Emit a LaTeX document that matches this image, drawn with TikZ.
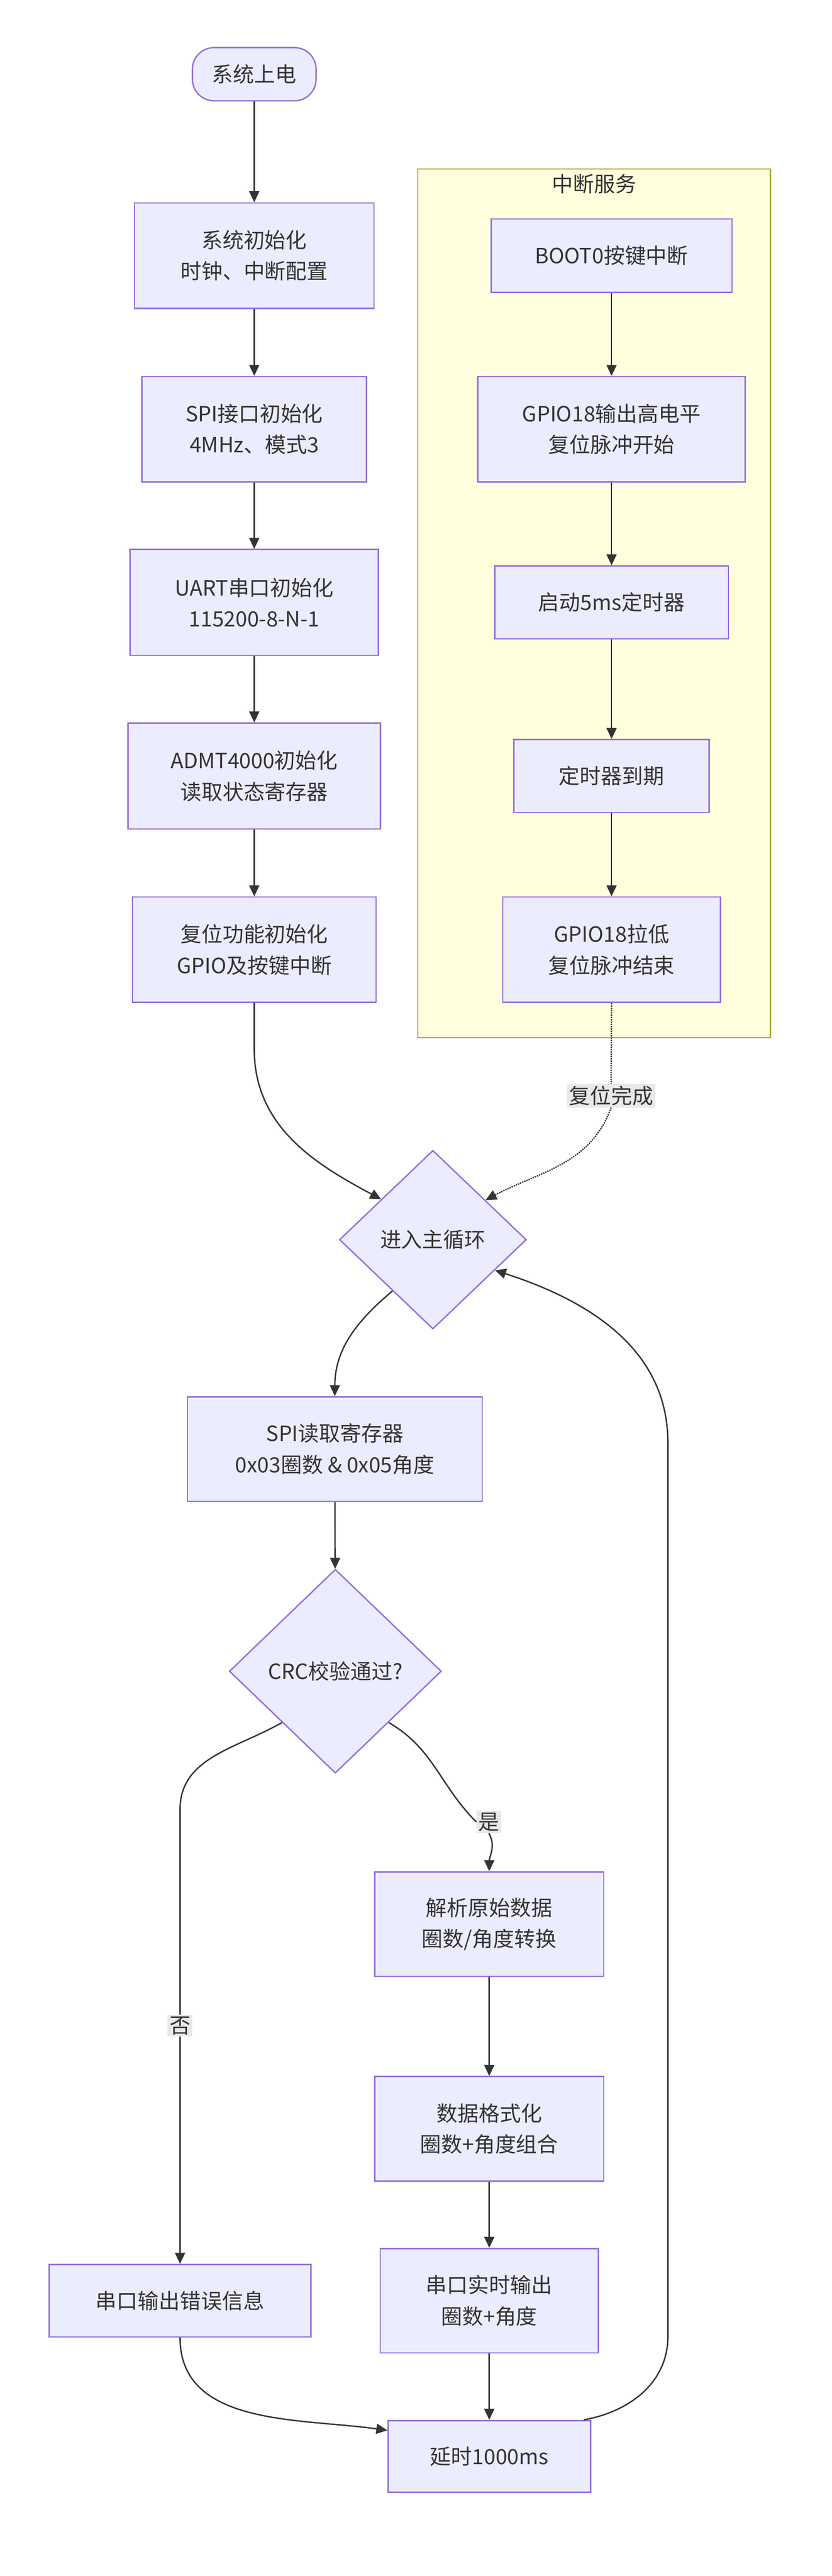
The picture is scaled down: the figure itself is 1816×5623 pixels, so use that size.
\documentclass[tikz,border=0pt]{standalone}
\usepackage{fontspec}
\setmainfont{Noto Sans CJK SC}
\usetikzlibrary{shapes.geometric,arrows.meta,calc}
\definecolor{nfill}{HTML}{ECECFF}
\definecolor{nstroke}{HTML}{9370DB}
\definecolor{sfill}{HTML}{FFFFDE}
\definecolor{sstroke}{HTML}{AAAA33}
\definecolor{lbg}{HTML}{E8E8E8}
\definecolor{edge}{HTML}{333333}
\begin{document}
\begin{tikzpicture}[x=1pt,y=-1pt,
  every node/.style={font=\fontsize{46}{68}\selectfont, text=edge},
  box/.style={rectangle, draw=nstroke, fill=nfill, line width=3pt, align=center, inner sep=0pt},
  dia/.style={diamond, draw=nstroke, fill=nfill, line width=3pt, align=center, inner sep=0pt},
  lbl/.style={fill=lbg, inner sep=4pt},
  arr/.style={draw=edge, line width=3pt, -{Triangle[length=24pt,width=22pt]}}]
\useasboundingbox (0,0) rectangle (1816,5623);
\fill[white] (0,0) rectangle (1816,5623);
% subgraph
\draw[fill=sfill, draw=sstroke, line width=3pt] (912,369) rectangle (1682,2265);
\node (sgt) at (1297,401) {中断服务};
% main column
\node[box, rounded corners=47pt, minimum width=270pt, minimum height=116pt] (s) at (555,162) {系统上电};
\node[box, minimum width=523pt, minimum height=230pt] (b1) at (555,558) {系统初始化\\时钟、中断配置};
\node[box, minimum width=491pt, minimum height=230pt] (b2) at (555,937) {SPI接口初始化\\4MHz、模式3};
\node[box, minimum width=542pt, minimum height=231pt] (b3) at (555,1315) {UART串口初始化\\115200-8-N-1};
\node[box, minimum width=551pt, minimum height=231pt] (b4) at (555,1694) {ADMT4000初始化\\读取状态寄存器};
\node[box, minimum width=532pt, minimum height=230pt] (b5) at (555,2073) {复位功能初始化\\GPIO及按键中断};
% interrupt column
\node[box, minimum width=526pt, minimum height=160pt] (i1) at (1335,558) {BOOT0按键中断};
\node[box, minimum width=584pt, minimum height=230pt] (i2) at (1335,937) {GPIO18输出高电平\\复位脉冲开始};
\node[box, minimum width=510pt, minimum height=159pt] (i3) at (1335,1315) {启动5ms定时器};
\node[box, minimum width=426pt, minimum height=159pt] (i4) at (1335,1694) {定时器到期};
\node[box, minimum width=475pt, minimum height=230pt] (i5) at (1335,2073) {GPIO18拉低\\复位脉冲结束};
% loop
\node[dia, minimum width=408pt, minimum height=390pt] (d1) at (945,2706) {进入主循环};
\node[box, minimum width=643pt, minimum height=228pt] (r) at (731,3163) {SPI读取寄存器\\0x03圈数 \& 0x05角度};
\node[dia, minimum width=463pt, minimum height=445pt] (d2) at (732,3648) {CRC校验通过?};
\node[box, minimum width=500pt, minimum height=228pt] (p) at (1068,4200) {解析原始数据\\圈数/角度转换};
\node[box, minimum width=500pt, minimum height=228pt] (f) at (1068,4647) {数据格式化\\圈数+角度组合};
\node[box, minimum width=476pt, minimum height=228pt] (o) at (1068,5022) {串口实时输出\\圈数+角度};
\node[box, minimum width=571pt, minimum height=158pt] (e) at (393,5022) {串口输出错误信息};
\node[box, minimum width=442pt, minimum height=157pt] (dl) at (1068,5362) {延时1000ms};
% edges
\draw[arr] (s) -- (b1);
\draw[arr] (b1) -- (b2);
\draw[arr] (b2) -- (b3);
\draw[arr] (b3) -- (b4);
\draw[arr] (b4) -- (b5);
\draw[arr] (i1) -- (i2);
\draw[arr] (i2) -- (i3);
\draw[arr] (i3) -- (i4);
\draw[arr] (i4) -- (i5);
\coordinate (d1a) at ($(d1.west)!0.45!(d1.north)$);
\coordinate (d1b) at ($(d1.east)!0.44!(d1.north)$);
\coordinate (d1c) at ($(d1.east)!0.34!(d1.south)$);
\coordinate (d1d) at ($(d1.west)!0.57!(d1.south)$);
\draw[arr] (b5.south) -- ++(0,100) to[out=-90,in=152] (d1a);
\node[lbl] (lr) at (1334,2392) {复位完成};
\draw[edge, line width=3pt, dotted] (i5.south) -- (lr.north);
\draw[arr, dotted] (lr.south) to[out=-110,in=28] (d1b);
\draw[arr] (d1d) to[out=-140,in=90] (r.north);
\draw[arr] (r) -- (d2);
\coordinate (d2a) at ($(d2.west)!0.5!(d2.south)$);
\coordinate (d2b) at ($(d2.east)!0.5!(d2.south)$);
\node[lbl] (ly) at (1067,3977) {是};
\draw[edge, line width=3pt] (d2b) to[out=-30,in=135] (ly.west);
\draw[arr] (ly.south) to[out=-60,in=90] (p.north);
\node[lbl] (ln) at (393,4422) {否};
\draw[edge, line width=3pt] (d2a) to[out=-150,in=90] (393,3950) -- (ln.north);
\draw[arr] (ln.south) -- (e.north);
\draw[arr] (p) -- (f);
\draw[arr] (f) -- (o);
\draw[arr] (o) -- (dl);
\draw[arr] (e.south) to[out=-90,in=172] (dl.west|-1068,5305);
\coordinate (lp1) at (1458,5100);
\coordinate (lp2) at (1458,3150);
\draw[arr] (dl.north east) ++(-16,0) to[out=10,in=-90] (lp1) -- (lp2) to[out=90,in=-18] (d1c);
\end{tikzpicture}
\end{document}
